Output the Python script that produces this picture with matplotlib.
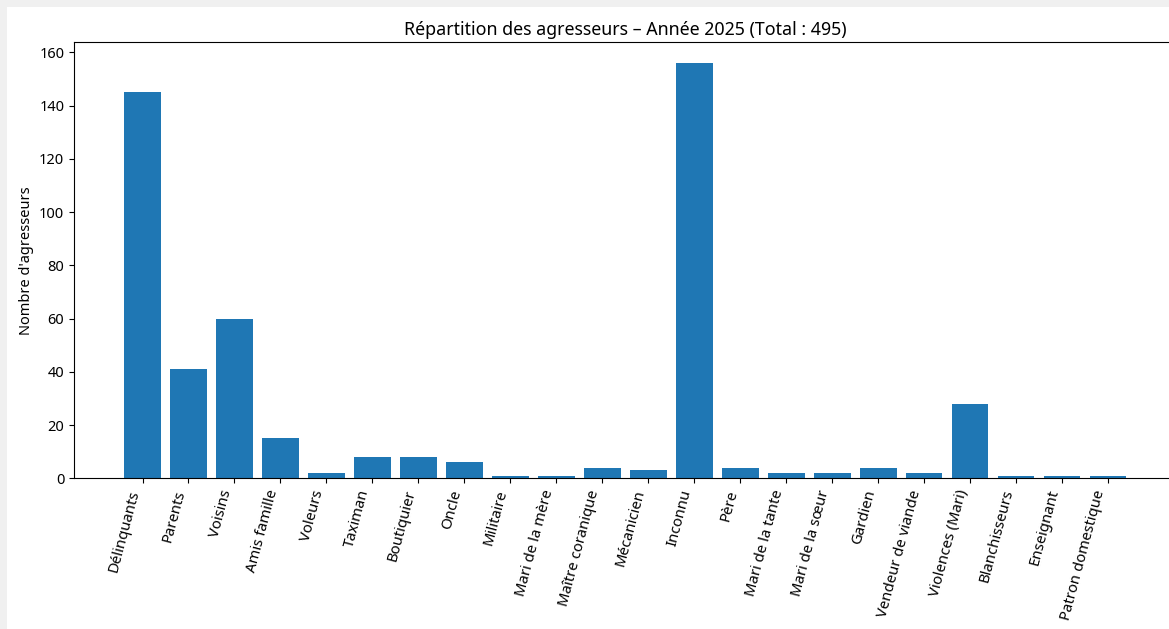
import matplotlib
matplotlib.use("Agg")
import matplotlib.pyplot as plt
from matplotlib.patches import Rectangle

CATEGORIES = [
    "Délinquants", "Parents", "Voisins", "Amis famille", "Voleurs", "Taximan",
    "Boutiquier", "Oncle", "Militaire", "Mari de la mère", "Maître coranique",
    "Mécanicien", "Inconnu", "Père", "Mari de la tante", "Mari de la sœur",
    "Gardien", "Vendeur de viande", "Violences (Mari)", "Blanchisseurs",
    "Enseignant", "Patron domestique",
]
COUNTS = [145, 41, 60, 15, 2, 8, 8, 6, 1, 1, 4, 3, 156, 4, 2, 2, 4, 2, 28, 1, 1, 1]
YEAR = 2025

plt.rcParams["font.family"] = ["Noto Sans", "DejaVu Sans"]

fig = plt.figure(figsize=(11.69, 6.29), dpi=100)
fig.patch.set_facecolor("#f0f0f0")
# zone blanche de la figure (bordure grise de la capture à gauche et en haut)
fig.patches.append(Rectangle((7 / 1169, 0), 1, 1 - 7 / 629, transform=fig.transFigure,
                             facecolor="white", edgecolor="none", zorder=-10))

ax = fig.add_axes([74 / 1169, (629 - 478.4) / 629, 1102.5 / 1169, 436.2 / 629])
ax.bar(range(len(CATEGORIES)), COUNTS, color="#1f77b4")
ax.set_xticks(range(len(CATEGORIES)))
ax.set_xticklabels(CATEGORIES, rotation=75, ha="right", fontsize=10.7)
ax.tick_params(axis="y", labelsize=10.5)
ax.set_ylabel("Nombre d'agresseurs", fontsize=10.5)
ax.set_title(f"Répartition des agresseurs – Année {YEAR} (Total : {sum(COUNTS)})", fontsize=12.8, pad=5)

fig.savefig("out.png", dpi=100)
